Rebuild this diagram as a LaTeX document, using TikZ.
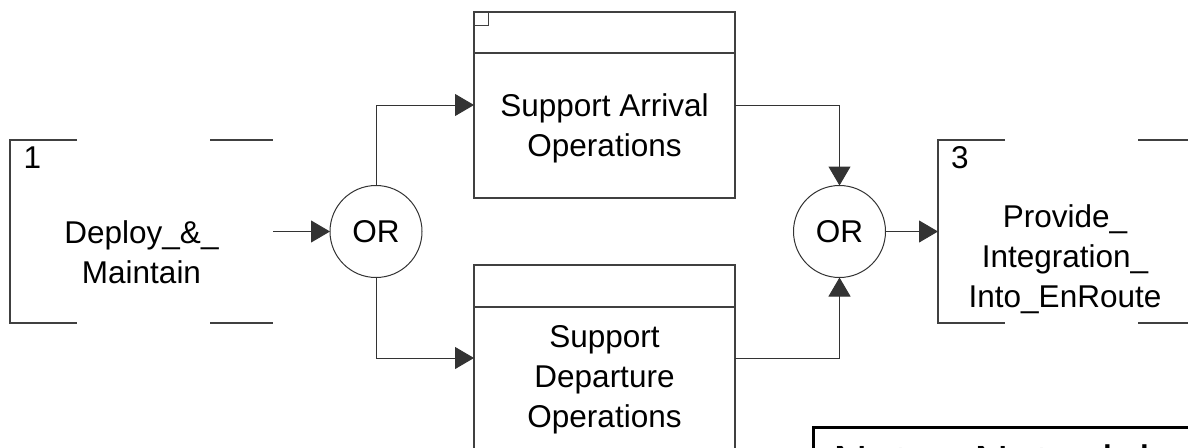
\documentclass[tikz,border=0pt]{standalone}
\usepackage{fontspec}
\setmainfont{Liberation Sans}
\usetikzlibrary{arrows.meta,calc}
\begin{document}
\begin{tikzpicture}[x=1pt,y=-1pt,
  every node/.style={inner sep=0pt, outer sep=0pt},
  lbl/.style={font=\fontsize{31.5}{40}\selectfont, align=center},
  boxln/.style={draw=black!75, line width=1.3pt},
  flow/.style={draw=black!80, line width=1pt, -{Triangle[length=19pt,width=22pt]}},
  gate/.style={circle, draw=black!80, line width=1pt, minimum size=92pt, font=\fontsize{31.5}{40}\selectfont},
  uob/.style={rectangle, boxln, minimum width=261pt, minimum height=186pt},
  bracket/.style={rectangle, minimum width=263pt, minimum height=183pt}
]
\useasboundingbox (0,0) rectangle (1188,447);
\clip (0,0) rectangle (1188,447);

% boxes and gates
\node[bracket] (b1) at (141.5,231.5) {};
\node[gate] (or1) at (376,231.5) {OR};
\node[uob] (ua) at (604.5,105) {};
\node[uob] (ud) at (604.5,358) {};
\node[gate] (or2) at (839.5,231.5) {OR};
\node[bracket] (b3) at (1069.5,231.5) {};

% bracket pieces
\draw[boxln] ($(b1.north west)+(67,0)$) -- (b1.north west) -- (b1.south west) -- ($(b1.south west)+(67,0)$);
\draw[boxln] ($(b1.north east)+(-63,0)$) -- (b1.north east);
\draw[boxln] ($(b1.south east)+(-63,0)$) -- (b1.south east);
\draw[boxln] ($(b3.north west)+(67,0)$) -- (b3.north west) -- (b3.south west) -- ($(b3.south west)+(67,0)$);
\draw[boxln] ($(b3.north east)+(-63,0)$) -- (b3.north east);
\draw[boxln] ($(b3.south east)+(-63,0)$) -- (b3.south east);

% headers
\draw[boxln] ($(ua.north west)+(0,41)$) -- ($(ua.north east)+(0,41)$);
\draw[boxln] ($(ud.north west)+(0,42)$) -- ($(ud.north east)+(0,42)$);
\draw[boxln, line width=1pt] (ua.north west) rectangle ++(14,13);

% labels (base anchor = baseline of last line)
\node[lbl, anchor=base west] (n1) at (23.5,168) {1};
\node[lbl, anchor=base west] (n3) at (951,168) {3};
\node[lbl, anchor=base] (t1) at (141.5,283) {Deploy\_\&\_\\Maintain};
\node[lbl, anchor=base] (ta) at (604.5,156) {Support Arrival\\Operations};
\node[lbl, anchor=base] (td) at (604.5,427) {Support\\Departure\\Operations};
\node[lbl, anchor=base] (t3) at (1065,307) {Provide\_\\Integration\_\\Into\_EnRoute};

% connectors
\draw[flow] (b1.east) -- (or1.west);
\draw[flow] (or1.north) |- (ua.west);
\draw[flow] (or1.south) |- (ud.west);
\draw[flow] (ua.east) -| (or2.north);
\draw[flow] (ud.east) -| (or2.south);
\draw[flow] (or2.east) -- (b3.west);

% note
\node[draw=black, line width=3pt, minimum width=420pt, minimum height=100pt, anchor=north west] (note) at (813.5,427) {};
\node[anchor=base west, font=\fontsize{48}{56}\selectfont] (nt) at (833,479) {Note:\ \ Not a label};
\end{tikzpicture}
\end{document}
